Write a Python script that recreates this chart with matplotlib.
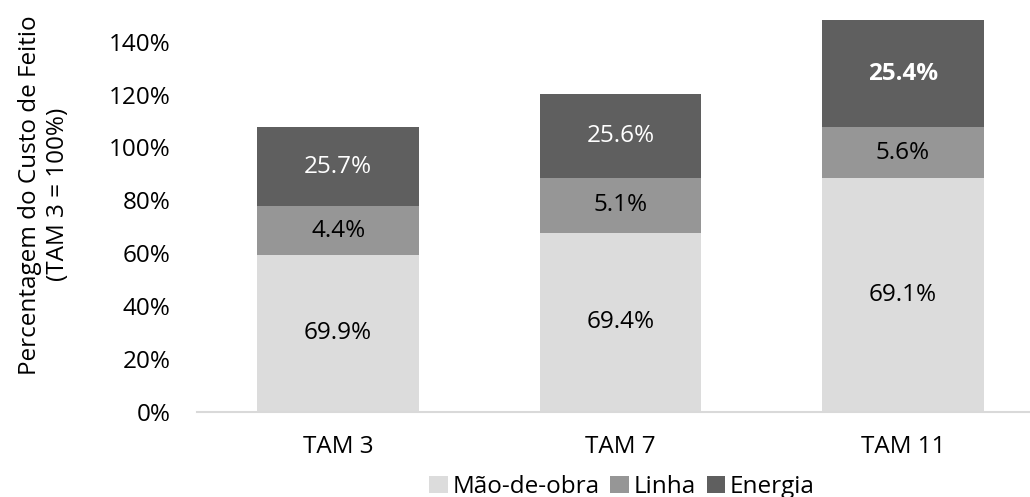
import matplotlib
matplotlib.use("Agg")
import matplotlib.pyplot as plt
import numpy as np
from matplotlib.ticker import PercentFormatter

plt.rcParams['font.family'] = ['Open Sans', 'DejaVu Sans']

# tamanhos
categorias = ['TAM 3', 'TAM 7', 'TAM 11']
series = ['Mão-de-obra', 'Linha', 'Energia']

# alturas das barras (% do custo de feitio, TAM 3 = 100%)
mao_de_obra = [59.3, 67.7, 88.4]
linha = [18.5, 20.7, 19.3]
energia = [29.9, 31.8, 40.5]

# rotulos de cada fatia (peso no custo)
rot_mao = ['69.9%', '69.4%', '69.1%']
rot_linha = ['4.4%', '5.1%', '5.6%']
rot_energia = ['25.7%', '25.6%', '25.4%']

cores = ['#dcdcdc', '#969696', '#5f5f5f']

fig = plt.figure(figsize=(10.30, 4.97), dpi=100)
ax = fig.add_axes([197/1030, 85.3/497, 847/1030, 396.4/497])

x = np.arange(len(categorias))
w = 0.573
base = np.zeros(len(categorias))
camadas = [(mao_de_obra, rot_mao), (linha, rot_linha), (energia, rot_energia)]
for i, (vals, rots) in enumerate(camadas):
    vals = np.array(vals)
    ax.bar(x, vals, w, bottom=base, color=cores[i], label=series[i], zorder=2)
    for j in range(len(x)):
        cor_txt = 'white' if i == 2 else 'black'
        peso = 'bold' if (i == 2 and j == 2) else 'normal'
        ax.text(x[j], base[j] + vals[j] / 2, rots[j], ha='center', va='center',
                fontsize=17.5, color=cor_txt, fontweight=peso)
    base = base + vals

ax.set_xlim(-0.5, 2.5)
ax.set_ylim(0, 150)
ax.set_yticks(np.arange(0, 141, 20))
ax.yaxis.set_major_formatter(PercentFormatter(decimals=0))
ax.set_xticks(x)
ax.set_xticklabels(categorias)
ax.tick_params(axis='both', length=0, labelsize=17.5)
ax.tick_params(axis='x', pad=17)
ax.tick_params(axis='y', pad=19)
for s in ['top', 'right', 'left']:
    ax.spines[s].set_visible(False)
ax.spines['bottom'].set_color('#d9d9d9')
ax.spines['bottom'].set_linewidth(1.5)

fig.text(44/1030, 0.608, 'Percentagem do Custo de Feitio\n(TAM 3 = 100%)', rotation=90,
         ha='center', va='center', fontsize=17.5, linespacing=1.25)

fig.legend(loc='center', bbox_to_anchor=(622/1030, 1 - 487/497), ncol=3, frameon=False,
           fontsize=17.5, handlelength=0.75, handleheight=0.75, handletextpad=0.2,
           columnspacing=0.45)

fig.savefig('out.png', dpi=100)
